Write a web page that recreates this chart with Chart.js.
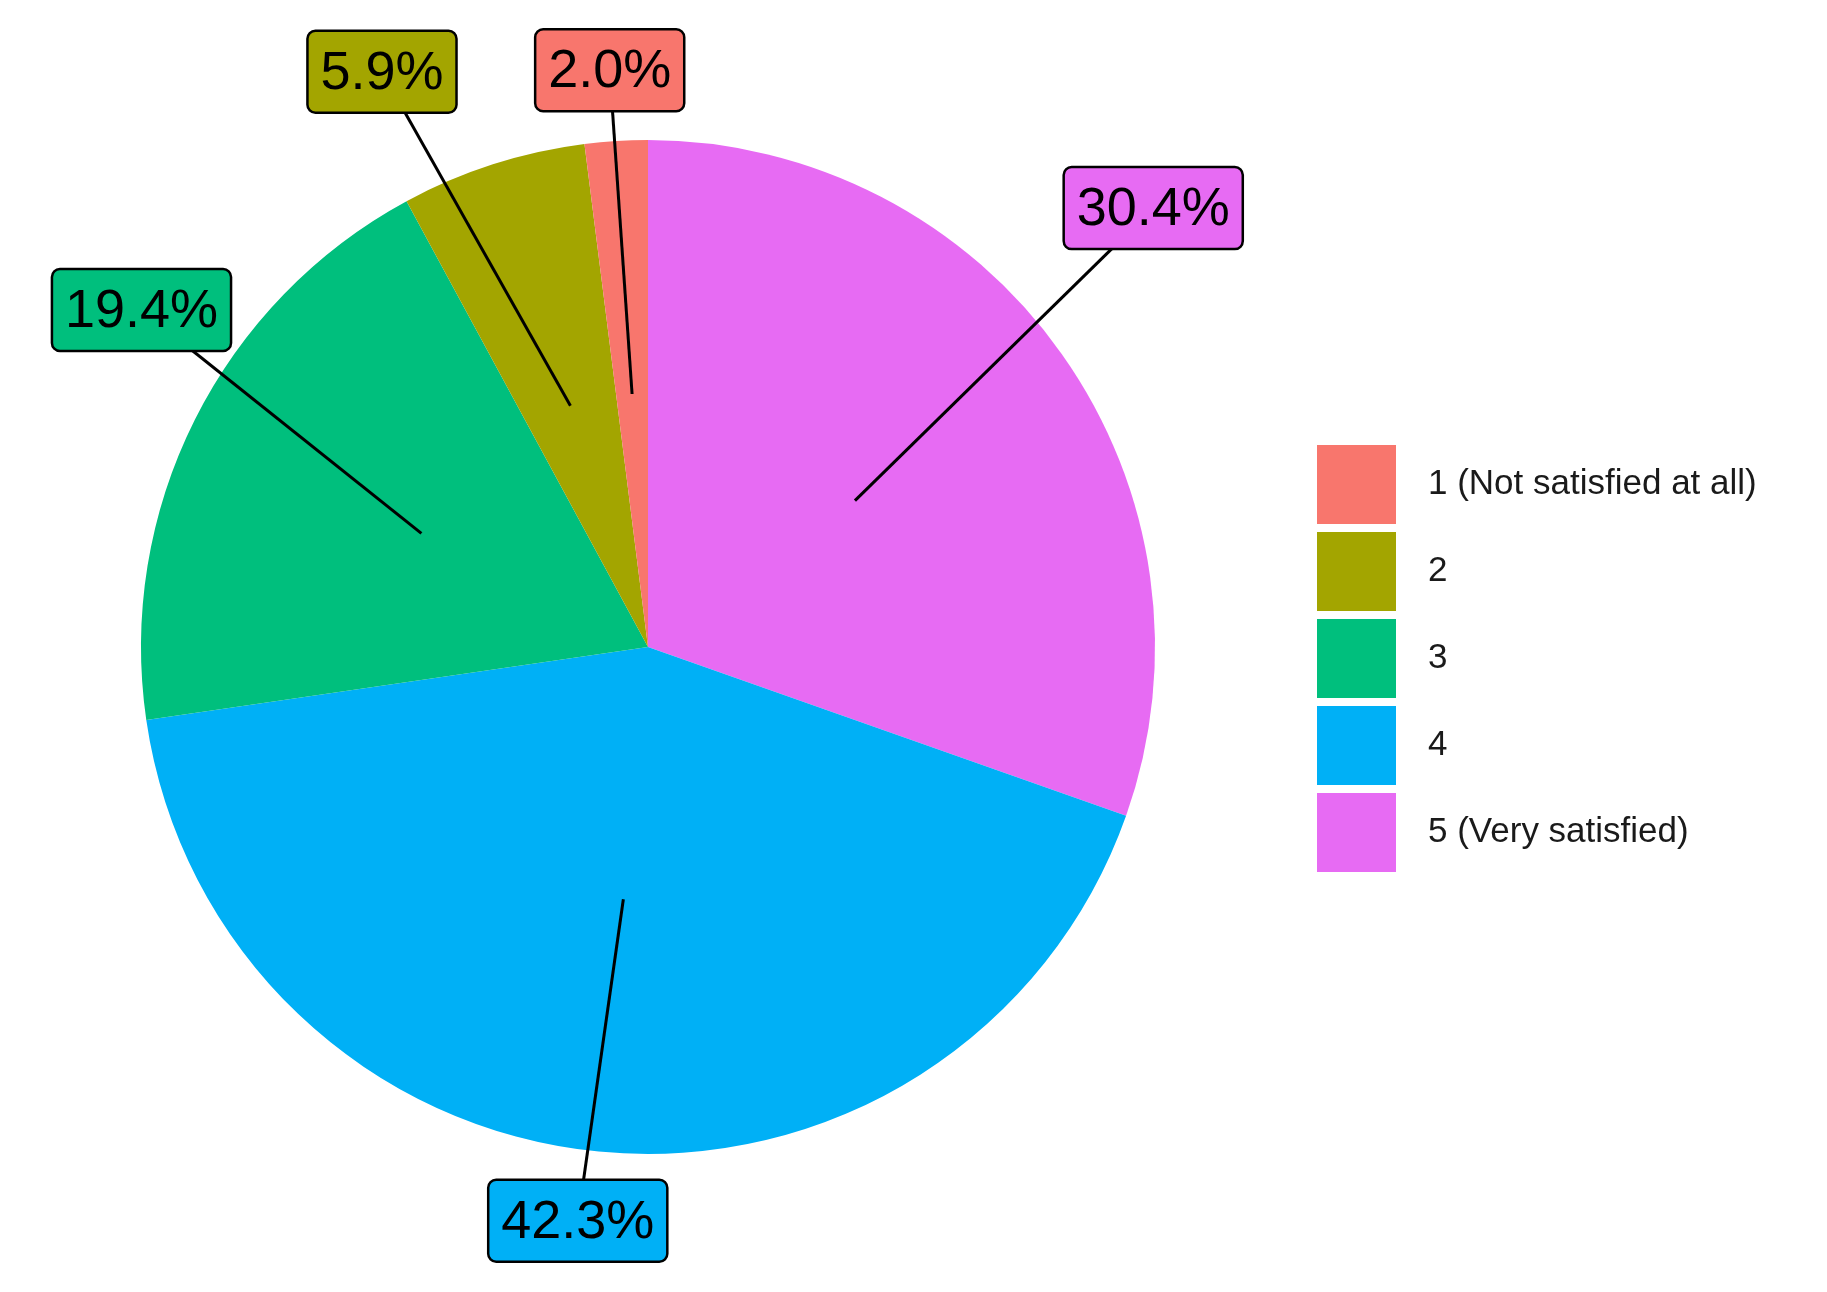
<!DOCTYPE html>
<html>
<head>
<meta charset="utf-8">
<script src="https://cdn.jsdelivr.net/npm/chart.js@4"></script>
<style>
  html, body { margin: 0; padding: 0; background: #fff; }
  #wrap { width: 1827px; height: 1292px; }
</style>
</head>
<body>
<div id="wrap"><canvas id="pie"></canvas></div>
<script>
// legend order (1..5); drawn clockwise from 12 o'clock in reverse order
const categories = ["1 (Not satisfied at all)", "2", "3", "4", "5 (Very satisfied)"];
const shares = [2.0, 5.9, 19.4, 42.3, 30.4];
const colors = ["#F8766D", "#A3A500", "#00BF7D", "#00B0F6", "#E76BF3"];

// label placement (repelled like ggrepel): radius factor and angle shift in degrees
const labelRadius = [1.14, 1.25, 1.2, 1.14, 1.32];
const labelShift = [-0.2, -7, 7, 1.4, -5.7];

const drawOrder = [4, 3, 2, 1, 0];

function roundRect(ctx, x, y, w, h, r) {
    ctx.beginPath();
    ctx.moveTo(x + r, y);
    ctx.arcTo(x + w, y, x + w, y + h, r);
    ctx.arcTo(x + w, y + h, x, y + h, r);
    ctx.arcTo(x, y + h, x, y, r);
    ctx.arcTo(x, y, x + w, y, r);
    ctx.closePath();
}

const labelPlugin = {
    id: "repelLabels",
    afterDraw(chart) {
        const ctx = chart.ctx;
        const meta = chart.getDatasetMeta(0);
        ctx.save();
        ctx.font = "54px 'Liberation Sans', Arial, sans-serif";
        ctx.textAlign = "center";
        ctx.textBaseline = "middle";
        meta.data.forEach((arc, i) => {
            const k = drawOrder[i];
            const { x, y, startAngle, endAngle, outerRadius } = arc.getProps(["x", "y", "startAngle", "endAngle", "outerRadius"], true);
            const mid = (startAngle + endAngle) / 2;
            const ix = x + Math.cos(mid) * outerRadius * 0.5;
            const iy = y + Math.sin(mid) * outerRadius * 0.5;
            const a = mid + labelShift[k] * Math.PI / 180;
            const lx = x + Math.cos(a) * outerRadius * labelRadius[k];
            const ly = y + Math.sin(a) * outerRadius * labelRadius[k];
            ctx.strokeStyle = "#000";
            ctx.lineWidth = 3;
            ctx.beginPath();
            ctx.moveTo(ix, iy);
            ctx.lineTo(lx, ly);
            ctx.stroke();
            const text = shares[k].toFixed(1) + "%";
            const w = ctx.measureText(text).width + 26;
            const h = 82;
            roundRect(ctx, lx - w / 2, ly - h / 2, w, h, 8);
            ctx.fillStyle = colors[k];
            ctx.fill();
            ctx.lineWidth = 2.5;
            ctx.stroke();
            ctx.fillStyle = "#000";
            ctx.fillText(text, lx, ly + 2);
        });

        // legend
        const keyX = 1317, keyTop = 445, key = 79, step = 87;
        ctx.font = "35px 'Liberation Sans', Arial, sans-serif";
        ctx.textAlign = "left";
        categories.forEach((c, k) => {
            const ky = keyTop + k * step;
            ctx.fillStyle = colors[k];
            ctx.fillRect(keyX, ky, key, key);
            ctx.fillStyle = "#1a1a1a";
            ctx.fillText(c, keyX + key + 32, ky + key / 2);
        });
        ctx.restore();
    }
};

new Chart(document.getElementById("pie"), {
    type: "pie",
    data: {
        labels: drawOrder.map(k => categories[k]),
        datasets: [{
            data: drawOrder.map(k => shares[k]),
            backgroundColor: drawOrder.map(k => colors[k]),
            borderWidth: 0
        }]
    },
    options: {
        responsive: true,
        maintainAspectRatio: false,
        animation: false,
        layout: { padding: { top: 140, bottom: 138, left: 141, right: 672 } },
        plugins: { legend: { display: false }, tooltip: { enabled: false } }
    },
    plugins: [labelPlugin]
});
</script>
</body>
</html>
